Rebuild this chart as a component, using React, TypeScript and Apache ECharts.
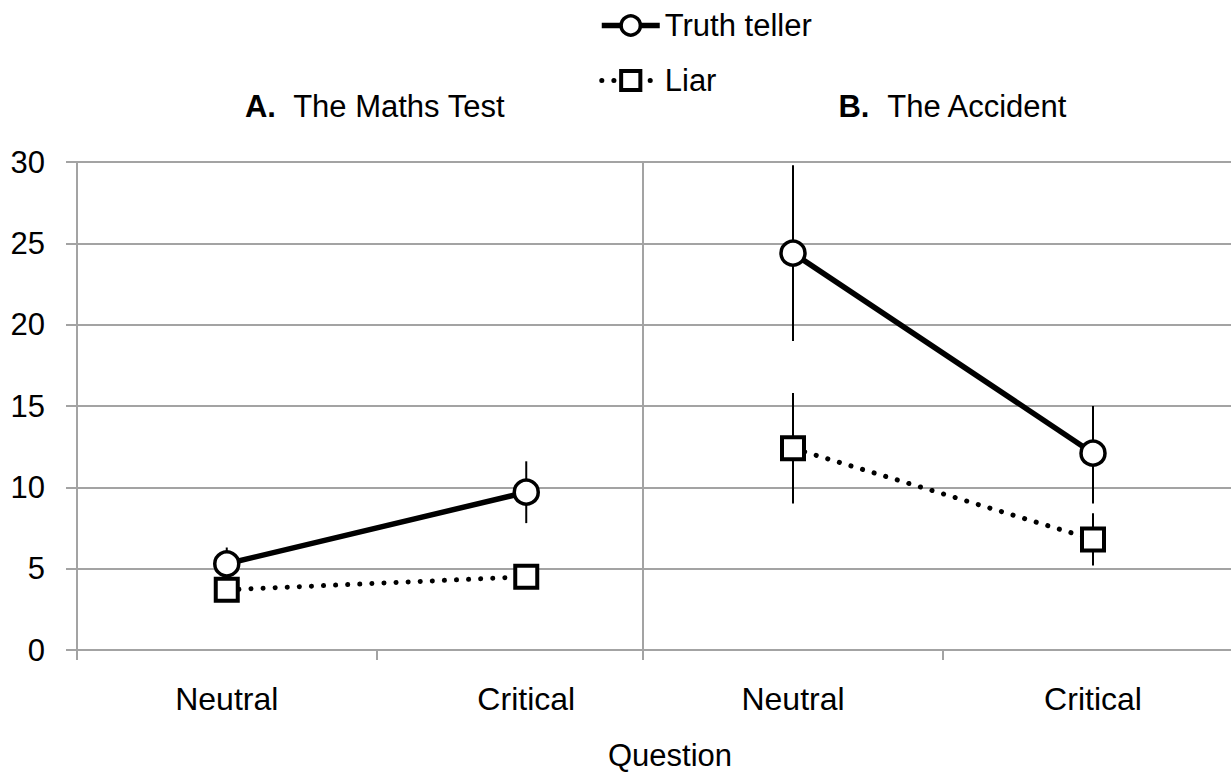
import React, { useEffect, useRef } from 'react';
import * as echarts from 'echarts';

const categories = ['Neutral', 'Critical'];
const yMin = 0;
const yMax = 30;
const yStep = 5;

// Panel A: The Maths Test
const truthA = [5.3, 9.7];
const truthALow = [4.6, 7.8];
const truthAHigh = [6.3, 11.6];
const liarA = [3.7, 4.5];
const liarALow = [3.2, 4.0];
const liarAHigh = [4.2, 5.0];

// Panel B: The Accident
const truthB = [24.4, 12.1];
const truthBLow = [19.0, 9.0];
const truthBHigh = [29.8, 15.0];
const liarB = [12.4, 6.8];
const liarBLow = [9.0, 5.2];
const liarBHigh = [15.8, 8.4];

const seriesNames = ['Truth teller', 'Liar'];
const panelTitles = ['The Maths Test', 'The Accident'];
const panelLetters = ['A.', 'B.'];
const axisName = 'Question';

const FONT = '"Liberation Sans", Arial, Helvetica, sans-serif';
const GRID_COLOR = '#a3a3a3';
const DOTTED = [0.1, 12];

const pts = (vals: number[]) => vals.map((v, i) => [i + 0.5, v]);
const errPts = (lo: number[], hi: number[]) => lo.map((l, i) => [i + 0.5, l, hi[i]]);

export default function App() {
  const ref = useRef<HTMLDivElement>(null);

  useEffect(() => {
    if (!ref.current) return;
    const chart = echarts.init(ref.current, null, { renderer: 'svg' });

    const errRender = (params: any, api: any) => {
      const x = api.value(0);
      const p1 = api.coord([x, api.value(1)]);
      const p2 = api.coord([x, api.value(2)]);
      return {
        type: 'line',
        shape: { x1: p1[0], y1: p1[1], x2: p2[0], y2: p2[1] },
        style: { stroke: '#000', lineWidth: 2 },
      };
    };

    const xAxisBase = (idx: number, max: number) => ({
      type: 'value',
      gridIndex: idx,
      min: 0,
      max,
      axisLine: { show: true, onZero: false, lineStyle: { color: GRID_COLOR, width: 2 } },
      axisTick: { show: true, length: 10, customValues: [0, 1], lineStyle: { color: GRID_COLOR, width: 2 } },
      axisLabel: {
        customValues: [0.5, 1.5],
        formatter: (v: number) => categories[Math.floor(v)] ?? '',
        color: '#000',
        fontSize: 32,
        fontFamily: FONT,
        margin: 33,
      },
      splitLine: { show: false },
    });

    const yAxisBase = (idx: number, showLabels: boolean) => ({
      type: 'value',
      gridIndex: idx,
      min: yMin,
      max: yMax,
      interval: yStep,
      axisLine: { show: true, lineStyle: { color: GRID_COLOR, width: 2 } },
      axisTick: { show: true, length: showLabels ? 11 : 8, lineStyle: { color: GRID_COLOR, width: 2 } },
      axisLabel: {
        show: showLabels,
        color: '#000',
        fontSize: 31,
        fontFamily: FONT,
        margin: 32,
      },
      splitLine: { show: true, lineStyle: { color: GRID_COLOR, width: 2 } },
    });

    const lineSeries = (name: string, idx: number, vals: number[], isTruth: boolean) => ({
      name,
      type: 'line',
      xAxisIndex: idx,
      yAxisIndex: idx,
      data: pts(vals),
      symbol: isTruth ? 'circle' : 'rect',
      symbolSize: isTruth ? 24 : 22,
      z: 3,
      itemStyle: { color: '#fff', borderColor: '#000', borderWidth: isTruth ? 3.5 : 4 },
      lineStyle: isTruth
        ? { color: '#000', width: 5.5, type: 'solid' }
        : { color: '#000', width: 5, type: DOTTED, cap: 'round' },
    });

    const errSeries = (idx: number, lo: number[], hi: number[]) => ({
      type: 'custom',
      xAxisIndex: idx,
      yAxisIndex: idx,
      data: errPts(lo, hi),
      encode: { x: 0, y: [1, 2] },
      renderItem: errRender,
      z: 1,
      silent: true,
    });

    chart.setOption({
      animation: false,
      backgroundColor: '#fff',
      title: [0, 1].map((i) => ({
        text: `{b|${panelLetters[i]}}  ${panelTitles[i]}`,
        left: i === 0 ? 370 : 948,
        top: 86,
        textAlign: 'center',
        textStyle: {
          color: '#000',
          fontSize: 31,
          fontWeight: 'normal',
          fontFamily: FONT,
          rich: { b: { fontWeight: 'bold', fontSize: 31, fontFamily: FONT, color: '#000' } },
        },
      })),
      legend: {
        orient: 'vertical',
        left: 594,
        top: 5,
        itemWidth: 58,
        itemHeight: 24,
        itemGap: 24,
        data: [
          {
            name: seriesNames[0],
            itemStyle: { color: '#fff', borderColor: '#000', borderWidth: 3.5 },
            lineStyle: { color: '#000', width: 5.5, type: 'solid' },
          },
          {
            name: seriesNames[1],
            itemStyle: { color: '#fff', borderColor: '#000', borderWidth: 4 },
            lineStyle: { color: '#000', width: 5, type: DOTTED, cap: 'round' },
          },
        ],
        textStyle: { color: '#000', fontSize: 31, fontFamily: FONT, padding: [0, 0, 0, 0] },
      },
      grid: [
        { left: 77, top: 162, width: 566, height: 488, containLabel: false },
        { left: 643, top: 162, width: 588, height: 488, containLabel: false },
      ],
      xAxis: [xAxisBase(0, 566 / 299.5), xAxisBase(1, 588 / 300)],
      yAxis: [yAxisBase(0, true), yAxisBase(1, false)],
      series: [
        errSeries(0, truthALow, truthAHigh),
        errSeries(0, liarALow, liarAHigh),
        errSeries(1, truthBLow, truthBHigh),
        errSeries(1, liarBLow, liarBHigh),
        lineSeries(seriesNames[0], 0, truthA, true),
        lineSeries(seriesNames[1], 0, liarA, false),
        lineSeries(seriesNames[0], 1, truthB, true),
        lineSeries(seriesNames[1], 1, liarB, false),
      ],
      graphic: [
        {
          type: 'text',
          x: 670,
          y: 755,
          style: {
            text: axisName,
            fill: '#000',
            fontSize: 31,
            fontFamily: FONT,
            textAlign: 'center',
            textVerticalAlign: 'middle',
          },
        },
      ],
    });

    return () => chart.dispose();
  }, []);

  return (
    <div
      ref={ref}
      style={{ position: 'fixed', left: 0, top: 0, width: 1231, height: 773, background: '#fff' }}
    />
  );
}
